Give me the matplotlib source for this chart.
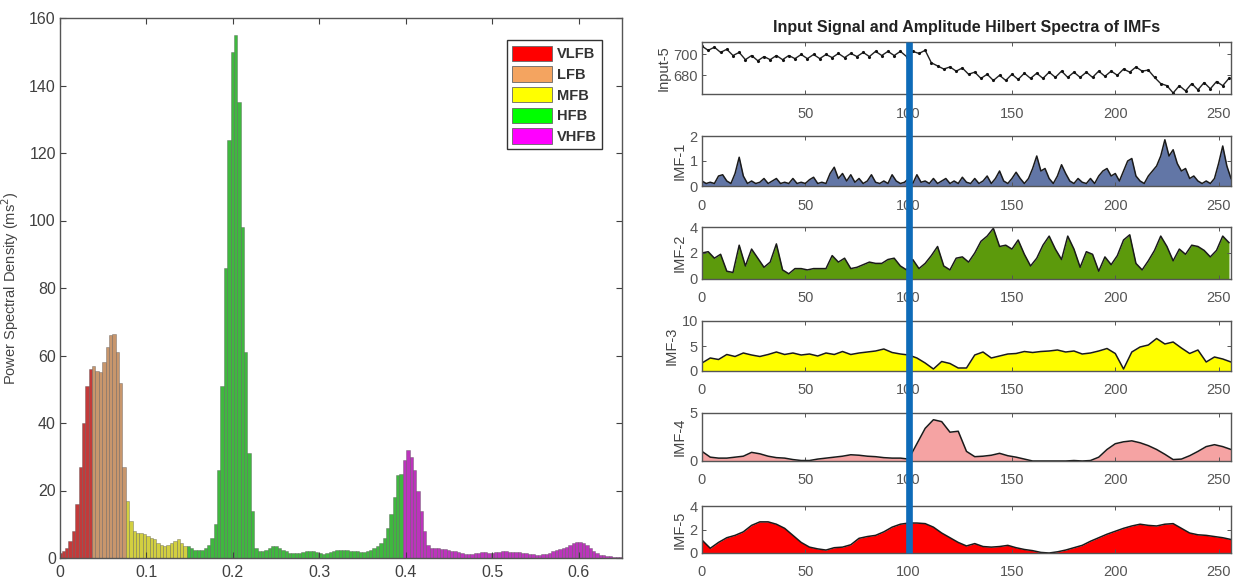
import numpy as np
import matplotlib
matplotlib.use("Agg")
import matplotlib.pyplot as plt
import matplotlib.transforms as mtransforms
from matplotlib.patches import Patch
from matplotlib.lines import Line2D

plt.rcParams['font.family'] = ['Liberation Sans', 'DejaVu Sans']

# ---------------- Left chart: PSD bars by band ----------------
df = 1.0 / 256
band_names = ["VLFB", "LFB", "MFB", "HFB", "VHFB"]
psd_vlfb = [1.5, 2, 3, 5, 8, 16, 27, 40, 51, 56]
psd_lfb = [57, 55.5, 55, 58, 62.5, 66, 66.5, 61, 52, 27]
psd_mfb = [17, 11, 8, 7.5, 7.5, 7, 6.5, 6, 5.5, 4.5, 4, 3.5, 4, 4.5, 5, 5.5, 4.5, 3.5]
psd_hfb = [3.5, 3, 2.5, 2.5, 2.5, 3, 4, 6, 10, 26,
           51, 86, 124, 150, 155, 135, 98, 61, 31, 14,
           3, 2, 2, 2.5, 3, 3.5, 3.5, 3, 2.5, 2,
           1.5, 1.5, 1.5, 1.5, 1.8, 2, 2.2, 2, 1.8, 1.5,
           1.3, 1.5, 1.8, 2, 2.3, 2.5, 2.5, 2.3, 2.2, 2,
           2, 1.8, 1.7, 2, 2.5, 3, 3.5, 4.5, 6, 9,
           13, 18, 24.5, 25]
psd_vhfb = [29, 32, 30, 26, 20, 14, 8, 4, 3, 3,
            3, 2.8, 2.6, 2.5, 2.2, 2, 1.8, 1.5, 1.2, 1.2,
            1.3, 1.5, 1.5, 1.8, 1.8, 1.6, 1.5, 1.7, 1.9, 2,
            2, 1.9, 1.8, 1.8, 1.7, 1.6, 1.4, 1.2, 1.1, 1,
            1, 1.1, 1.3, 1.6, 2, 2.3, 2.6, 3, 3.4, 3.8,
            4.3, 4.7, 4.8, 4.5, 3.8, 3, 2.2, 1.5, 1, 0.8,
            0.6, 0.5, 0.4, 0.3, 0.3]
band_values = [psd_vlfb, psd_lfb, psd_mfb, psd_hfb, psd_vhfb]
bar_colors = ["#C33A3A", "#C8966C", "#D2CF40", "#3FB83F", "#BC34BC"]
legend_colors = ["#FF0000", "#F4A460", "#FFFF00", "#00FF00", "#FF00FF"]

# ---------------- Right panels: signal and IMF amplitudes ----------------
input5 = [708, 704, 707, 702, 705, 699, 702,
          695, 699, 694, 698,
          695, 699, 695, 699, 696, 700, 696, 700, 696, 700, 697, 701, 697, 701,
          698, 702, 698, 703, 699, 703, 699, 703, 698,
          703, 701, 704, 692, 689, 686, 688, 684, 687, 681, 683, 677, 681, 675,
          680, 675, 681, 676, 682, 677, 682, 677, 683, 678, 684, 678, 683, 678,
          683, 678, 684, 679, 684, 680, 686, 683, 688, 684, 685, 678, 672, 670,
          663, 670, 665, 672, 666, 673, 667, 674, 670, 677]
imf1 = [0.2, 0.1, 0.15, 0.1, 0.4, 0.45, 0.2, 0.1, 0.5, 1.15,
        0.4, 0.1, 0.2, 0.1, 0.15, 0.3, 0.1, 0.2, 0.3, 0.1,
        0.15, 0.1, 0.3, 0.1, 0.15, 0.1, 0.25, 0.35, 0.1, 0.15,
        0.1, 0.5, 0.75, 0.3, 0.5, 0.2, 0.45, 0.15, 0.3, 0.1,
        0.2, 0.45, 0.15, 0.1, 0.2, 0.1, 0.45, 0.2, 0.1, 0.15,
        0.3, 0.1, 0.45, 0.15, 0.2, 0.1, 0.3, 0.1, 0.2, 0.3,
        0.1, 0.2, 0.1, 0.35, 0.15, 0.1, 0.3, 0.1, 0.2, 0.4,
        0.1, 0.3, 0.6, 0.2, 0.1, 0.3, 0.55, 0.3, 0.1, 0.3,
        0.7, 1.2, 0.6, 0.7, 0.3, 0.1, 0.4, 0.85, 0.5, 0.2,
        0.1, 0.3, 0.15, 0.1, 0.3, 0.1, 0.4, 0.6, 0.7, 0.4,
        0.5, 0.2, 0.6, 1.0, 1.1, 0.4, 0.2, 0.1, 0.4, 0.6,
        0.8, 1.2, 1.85, 1.2, 1.45, 0.9, 0.6, 0.7, 0.3, 0.4,
        0.2, 0.1, 0.2, 0.1, 0.3, 0.9, 1.6, 0.8, 0.3]
imf2 = [2.0, 2.1, 1.6, 1.9, 0.6, 0.5, 2.6, 1.0, 2.3, 1.6,
        0.9, 1.3, 2.7, 0.7, 0.4, 0.8, 0.8, 0.7, 0.8, 0.8,
        0.8, 1.8, 1.3, 1.6, 0.8, 0.9, 1.1, 1.3, 1.2, 1.2,
        1.5, 1.6, 1.0, 0.7, 1.5, 0.8, 1.2, 1.8, 2.5, 1.0,
        0.7, 1.6, 1.7, 1.3,
        2.0, 2.9, 3.3, 3.9, 2.5, 2.6, 2.3, 3.0, 1.9, 1.0,
        1.6, 2.6, 3.3, 2.3, 1.5, 3.3, 2.3, 0.9, 2.1, 1.9,
        0.6, 1.7, 1.1, 1.8, 3.0, 3.4, 1.2, 0.7, 1.4, 2.2,
        3.3, 2.5, 1.4, 2.3, 1.9, 2.6, 2.5, 2.2, 1.7, 2.2,
        3.3, 2.8]
imf3 = [1.6, 2.6, 2.3, 3.3, 2.9, 3.6, 3.2, 2.9, 3.3, 3.8,
        3.3, 3.6, 3.2, 3.4, 3.0, 3.6, 3.3, 3.9, 3.3, 3.6,
        3.8, 4.0, 4.4, 3.7, 3.4, 3.2, 2.6, 1.6, 0.4, 1.9,
        1.5, 0.6, 0.6, 3.2, 3.8, 2.6, 3.0, 3.4, 3.5, 3.9,
        3.7, 3.9, 4.0, 4.2, 3.8, 4.0, 3.4, 3.6, 4.0, 4.5,
        3.5, 0.4, 3.8, 4.8, 5.2, 6.5, 5.4, 5.8, 4.6, 3.5,
        4.2, 1.8, 2.8, 2.4, 1.8]
imf4 = [1.0, 0.4, 0.3, 0.3, 0.4, 0.5, 0.9, 0.75, 0.5, 0.35,
        0.3, 0.15, 0.05, 0.05, 0.2, 0.3, 0.4, 0.5, 0.65, 0.6,
        0.5, 0.45, 0.35, 0.3, 0.3, 0.2, 1.8, 3.4, 4.3, 4.1,
        3.0, 3.1, 1.0, 0.45, 0.5, 0.6, 0.8, 0.55, 0.4, 0.2,
        0.0, 0.0, 0.0, 0.0, 0.0, 0.05, 0.0, 0.05, 0.4, 1.2,
        1.8, 2.0, 2.1, 1.9, 1.6, 1.2, 0.7, 0.15, 0.2, 0.55,
        1.0, 1.5, 1.7, 1.5, 1.2]
imf5 = [1.1, 0.4, 0.9, 1.3, 1.5, 1.8, 2.35, 2.65, 2.65, 2.45,
        2.1, 1.5, 0.9, 0.5, 0.35, 0.25, 0.45, 0.5, 0.7, 1.25,
        1.4, 1.5, 1.8, 2.2, 2.45, 2.55, 2.55, 2.5, 2.2, 1.7,
        1.3, 0.9, 0.6, 0.8, 0.55, 0.5, 0.55, 0.65, 0.45, 0.3,
        0.2, 0.05, 0.0, 0.1, 0.25, 0.45, 0.65, 1.0, 1.3, 1.6,
        1.85, 2.1, 2.3, 2.45, 2.35, 2.3, 2.45, 2.5, 2.1, 1.7,
        1.55, 1.5, 1.4, 1.3, 1.15]
sample_steps = [3, 2, 3, 4, 4, 4]
panel_series = [input5, imf1, imf2, imf3, imf4, imf5]
panel_labels = ["Input-5", "IMF-1", "IMF-2", "IMF-3", "IMF-4", "IMF-5"]
panel_ylims = [(662, 712), (0, 2), (0, 4), (0, 10), (0, 5), (0, 4)]
panel_yticks = [[680, 700], [0, 1, 2], [0, 2, 4], [0, 5, 10], [0, 5], [0, 2, 4]]
panel_fill = [None, "#6276A6", "#5C9A0C", "#FFFF00", "#F5A3A3", "#FF0000"]
xticks_right = [0, 50, 100, 150, 200, 250]
marker_sample = 100
title_right = "Input Signal and Amplitude Hilbert Spectra of IMFs"

# ---------------- Figure ----------------
W, H = 1242, 587
fig = plt.figure(figsize=(W / 100, H / 100), dpi=100)

def px_axes(left, top, right, bottom):
    return fig.add_axes([left / W, 1 - bottom / H, (right - left) / W, (bottom - top) / H])

tick_gray = "#404040"

# Left chart
axL = px_axes(60, 18, 622, 558)
start = 0
for name, vals, col in zip(band_names, band_values, bar_colors):
    freqs = (np.arange(len(vals)) + start) * df
    axL.bar(freqs, vals, width=df, color=col, edgecolor=(0.3, 0.3, 0.3, 0.55),
            linewidth=0.45, align='center')
    start += len(vals)
axL.set_xlim(0, 0.65)
axL.set_ylim(0, 160)
axL.set_xticks([0, 0.1, 0.2, 0.3, 0.4, 0.5, 0.6])
axL.set_xticklabels(["0", "0.1", "0.2", "0.3", "0.4", "0.5", "0.6"])
axL.set_yticks(np.arange(0, 161, 20))
axL.tick_params(direction='in', top=True, right=True, length=4, width=0.8,
                labelsize=11.5, colors=tick_gray, pad=5)
axL.tick_params(axis='y', pad=3)
for s in axL.spines.values():
    s.set_color("#555555")
    s.set_linewidth(1.0)
axL.set_ylabel("Power Spectral Density (ms$^{2}$)", fontsize=10.5, color="#444444", labelpad=6)
handles = [Patch(facecolor=c, edgecolor="#666666", linewidth=0.6) for c in legend_colors]
leg = axL.legend(handles, band_names, loc='upper right', bbox_to_anchor=(0.977, 0.972),
                 fontsize=10.5, handlelength=2.7, handleheight=1.25, labelspacing=0.35,
                 borderpad=0.35, handletextpad=0.35, fancybox=False, framealpha=1)
leg.get_frame().set_edgecolor("#333333")
leg.get_frame().set_linewidth(1.0)
for t in leg.get_texts():
    t.set_fontweight('bold')
    t.set_color("#333333")

# Right panels
panel_px = [(42, 94), (136, 186), (227, 279), (321, 371), (413, 461), (506, 553)]
axes_r = []
for i, (top, bot) in enumerate(panel_px):
    ax = px_axes(702, top, 1231, bot)
    vals = np.array(panel_series[i], dtype=float)
    xs = np.arange(len(vals)) * sample_steps[i]
    if panel_fill[i] is None:
        ax.plot(xs, vals, color="#222222", linewidth=1.0)
        ax.plot(xs, vals, linestyle='none', marker='.', markersize=2.5, color="#111111")
    else:
        ax.fill_between(xs, 0, vals, color=panel_fill[i], linewidth=0)
        ax.plot(xs, vals, color="#1a1a1a", linewidth=1.1)
    ax.set_xlim(0, 256)
    ax.set_ylim(*panel_ylims[i])
    ax.set_yticks(panel_yticks[i])
    ax.set_xticks(xticks_right)
    if i == 0:
        ax.set_xticklabels([""] + [str(v) for v in xticks_right[1:]])
    ax.tick_params(direction='in', top=True, right=True, length=3, width=0.7,
                   labelsize=10.5, colors="#555555", pad=9)
    ax.tick_params(axis='y', pad=3)
    for s in ax.spines.values():
        s.set_color("#555555")
        s.set_linewidth(1.0)
    ax.set_ylabel(panel_labels[i], fontsize=10.5, color="#444444", labelpad=2)
    axes_r.append(ax)

axes_r[0].set_title(title_right, fontsize=11.5, fontweight='bold', color="#222222", pad=7)

# Blue vertical marker across all panels
trans = mtransforms.blended_transform_factory(axes_r[-1].transData, fig.transFigure)
y_bot = 1 - panel_px[-1][1] / H
y_top = 1 - panel_px[0][0] / H
fig.add_artist(Line2D([marker_sample, marker_sample], [y_bot, y_top], transform=trans,
                      color="#0E6BB8", linewidth=4.8, solid_capstyle='butt', zorder=10))

fig.savefig("out.png", dpi=100)
